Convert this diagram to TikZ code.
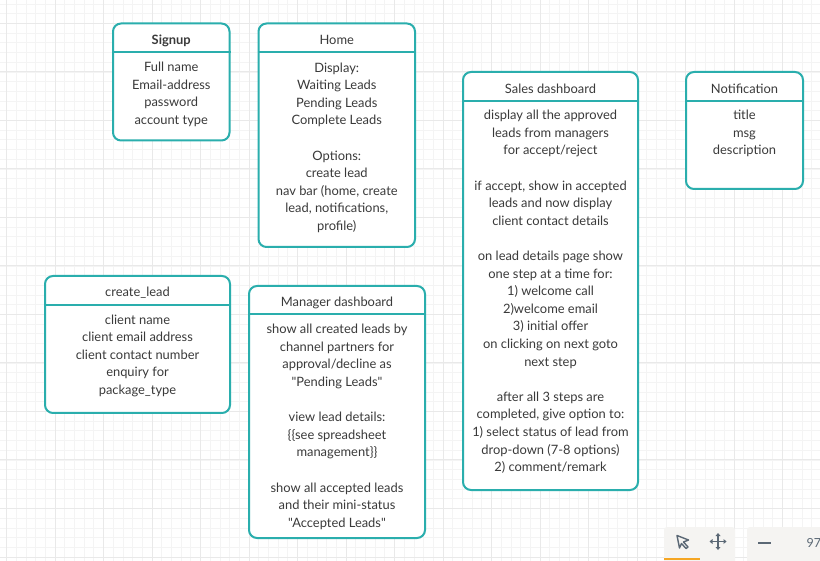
\documentclass[tikz,border=0pt]{standalone}
\usepackage{fontspec}
\setmainfont{Lato}[Ligatures=TeXOff]
\definecolor{teal1}{HTML}{2AAEAD}
\definecolor{txt}{HTML}{3A3A3A}
\definecolor{gmaj}{HTML}{E9E9E9}
\definecolor{gmin}{HTML}{F4F4F4}
\definecolor{panel}{HTML}{F5F4F2}
\definecolor{icon}{HTML}{5B6875}
\definecolor{orange1}{HTML}{F5A623}
\tikzset{
  frame/.style={draw=teal1, line width=2pt, rounded corners=8pt, fill=white, inner sep=0pt},
  divider/.style={draw=teal1, line width=2pt},
  ttl/.style={text=txt, font=\fontsize{12.9}{17.6}\selectfont, inner sep=0pt},
  body/.style={text=txt, font=\fontsize{12.9}{17.6}\selectfont, align=center, inner sep=0pt},
}
\newcommand{\mkbox}[6]{%
  % name, left, top, right, bottom, divider
  \node[frame, minimum width={#4-#2}, minimum height={#5-#3}] (#1) at ({(#2+#4)/2},{(#3+#5)/2}) {};
  \draw[divider] (#1.west |- 0,#6) -- (#1.east |- 0,#6);
}
\begin{document}
\begin{tikzpicture}[x=1pt,y=-1pt]
\useasboundingbox (0,0) rectangle (820,561);
\clip (0,0) rectangle (820,561);
\fill[white] (0,0) rectangle (820,561);
% grid
\foreach \i in {0,...,90} {
  \draw[gmin, line width=0.8pt] ({6.5+9.7*(\i-1)},0) -- ({6.5+9.7*(\i-1)},561);
}
\foreach \i in {0,...,62} {
  \draw[gmin, line width=0.8pt] (0,{23.5+9.7*(\i-3)}) -- (820,{23.5+9.7*(\i-3)});
}
\foreach \i in {0,...,17} {
  \draw[gmaj, line width=1pt] ({6.5+48.5*\i},0) -- ({6.5+48.5*\i},561);
}
\foreach \i in {-1,...,11} {
  \draw[gmaj, line width=1pt] (0,{23.5+48.5*\i}) -- (820,{23.5+48.5*\i});
}

% boxes
\mkbox{signup}{113}{23.5}{229.5}{140.5}{52.5}
\mkbox{home}{258.5}{23.5}{415}{247}{52.5}
\mkbox{sales}{463}{72}{638}{490}{101.5}
\mkbox{notif}{686}{72}{803}{189}{101.5}
\mkbox{create}{45}{276}{230}{413}{305}
\mkbox{manager}{249}{286}{425}{538}{314.5}

% titles
\node[ttl, font=\fontsize{12.9}{17.6}\selectfont\bfseries] (signupT) at (signup.center |- 0,40.5) {Signup};
\node[ttl] (homeT) at (home.center |- 0,40) {Home};
\node[ttl] (salesT) at (sales.center |- 0,88.5) {Sales dashboard};
\node[ttl] (notifT) at (notif.center |- 0,88.5) {Notification};
\node[ttl] (createT) at (create.center |- 0,292.8) {create\_lead};
\node[ttl] (managerT) at (manager.center |- 0,302.8) {Manager dashboard};

% bodies
\node[body] (signupB) at (signup.center |- 0,94.6) {\strut Full name\\Email-address\\password\\account type\strut};
\node[body] (homeB) at (home.center |- 0,147.7) {\strut Display:\\Waiting Leads\\Pending Leads\\Complete Leads\\\mbox{}\\Options:\\create lead\\nav bar (home, create\\lead, notifications,\\profile)\strut};
\node[body] (salesB) at (sales.center |- 0,292.1) {\strut display all the approved\\leads from managers\\for accept/reject\\\mbox{}\\if accept, show in accepted\\leads and now display\\client contact details\\\mbox{}\\on lead details page show\\one step at a time for:\\1) welcome call\\2)welcome email\\3) initial offer\\on clicking on next goto\\next step\\\mbox{}\\after all 3 steps are\\completed, give option to:\\1) select status of lead from\\drop-down (7-8 options)\\2) comment/remark\strut};
\node[body] (notifB) at (notif.center |- 0,133.8) {\strut title\\msg\\description\strut};
\node[body] (createB) at (create.center |- 0,355.7) {\strut client name\\client email address\\client contact number\\enquiry for\\package\_type\strut};
\node[body] (managerB) at (manager.center |- 0,427) {\strut show all created leads by\\channel partners for\\approval/decline as\\"Pending Leads"\\\mbox{}\\view lead details:\\\{\{see spreadsheet\\management\}\}\\\mbox{}\\show all accepted leads\\and their mini-status\\"Accepted Leads"\strut};

% toolbar (bottom right)
\fill[panel, rounded corners=3pt] (664,527) rectangle (735,570);
\fill[panel, rounded corners=3pt] (747,527) rectangle (840,570);
\fill[orange1] (664,557.5) rectangle (700,560);
% pointer icon
\draw[icon, line width=1.4pt, line join=round] (677,535.5) -- (688.5,540) -- (683.5,542) -- (688,547) -- (686,548.5) -- (681.5,543.5) -- (679.5,548) -- cycle;
% move icon
\draw[icon, line width=1.3pt] (711,541.5) -- (725,541.5);
\draw[icon, line width=1.3pt] (718,534.5) -- (718,548.5);
\fill[icon] (709.5,541.5) -- (712.5,539) -- (712.5,544) -- cycle;
\fill[icon] (726.5,541.5) -- (723.5,539) -- (723.5,544) -- cycle;
\fill[icon] (718,533) -- (715.5,536) -- (720.5,536) -- cycle;
\fill[icon] (718,550) -- (715.5,547) -- (720.5,547) -- cycle;
% minus and zoom value
\draw[icon, line width=1.8pt] (758,543) -- (771,543);
\node[text=icon, font=\fontsize{12.5}{15}\selectfont, anchor=west, inner sep=0pt] (zoomval) at (806.5,543) {97};
\end{tikzpicture}
\end{document}
